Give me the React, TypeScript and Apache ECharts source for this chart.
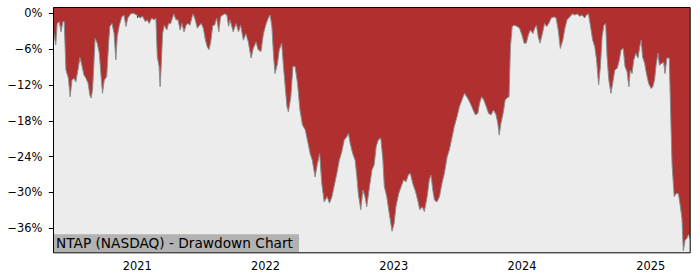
import React, { useEffect, useRef } from 'react';
import * as echarts from 'echarts';

const chartTitle = 'NTAP (NASDAQ) - Drawdown Chart';
const xStart = '2020-05-07';
const xEnd = '2025-04-23';
const yMin = -40.03;
const yMax = 1.05;
const yTickValues = [0, -6, -12, -18, -24, -30, -36];
const xTickYears = ['2021', '2022', '2023', '2024', '2025'];

const ddDates = [
  '2020-05-07','2020-05-14','2020-05-18','2020-05-24','2020-05-29','2020-06-03','2020-06-07','2020-06-12','2020-06-19','2020-06-24',
  '2020-06-29','2020-07-05','2020-07-10','2020-07-16','2020-07-22','2020-07-28','2020-08-02','2020-08-08','2020-08-14','2020-08-19',
  '2020-08-23','2020-08-27','2020-09-03','2020-09-09','2020-09-15','2020-09-20','2020-09-24','2020-09-29','2020-10-06','2020-10-12',
  '2020-10-15','2020-10-21','2020-10-27','2020-11-01','2020-11-05','2020-11-11','2020-11-18','2020-11-24','2020-11-30','2020-12-05',
  '2020-12-13','2020-12-21','2020-12-30','2021-01-09','2021-01-16','2021-01-24','2021-01-29','2021-02-04','2021-02-11','2021-02-18',
  '2021-02-23','2021-02-27','2021-03-04','2021-03-07','2021-03-10','2021-03-14','2021-03-19','2021-03-26','2021-03-31','2021-04-06',
  '2021-04-11','2021-04-15','2021-04-21','2021-04-27','2021-05-03','2021-05-08','2021-05-14','2021-05-20','2021-05-25','2021-05-31',
  '2021-06-06','2021-06-09','2021-06-15','2021-06-21','2021-06-27','2021-07-02','2021-07-08','2021-07-14','2021-07-19','2021-07-24',
  '2021-07-29','2021-08-04','2021-08-09','2021-08-15','2021-08-21','2021-08-26','2021-09-01','2021-09-07','2021-09-13','2021-09-18',
  '2021-09-22','2021-10-01','2021-10-09','2021-10-16','2021-10-22','2021-10-30','2021-11-06','2021-11-13','2021-11-21','2021-11-27',
  '2021-12-05','2021-12-11','2021-12-19','2021-12-26','2022-01-03','2022-01-09','2022-01-14','2022-01-19','2022-01-24','2022-01-28',
  '2022-02-04','2022-02-09','2022-02-16','2022-02-21','2022-02-26','2022-03-03','2022-03-07','2022-03-14','2022-03-20','2022-03-26',
  '2022-04-02','2022-04-09','2022-04-16','2022-04-24','2022-04-30','2022-05-08','2022-05-14','2022-05-22','2022-05-29','2022-06-04',
  '2022-06-10','2022-06-17','2022-06-25','2022-07-02','2022-07-09','2022-07-15','2022-07-23','2022-07-30','2022-08-06','2022-08-13',
  '2022-08-20','2022-08-25','2022-08-30','2022-09-06','2022-09-13','2022-09-18','2022-09-22','2022-09-29','2022-10-05','2022-10-11',
  '2022-10-16','2022-10-24','2022-10-31','2022-11-06','2022-11-12','2022-11-18','2022-11-25','2022-12-01','2022-12-05','2022-12-12',
  '2022-12-19','2022-12-27','2023-01-02','2023-01-07','2023-01-15','2023-01-22','2023-01-29','2023-02-05','2023-02-11','2023-02-17',
  '2023-02-24','2023-03-04','2023-03-10','2023-03-16','2023-03-23','2023-03-29','2023-04-06','2023-04-12','2023-04-17','2023-04-22',
  '2023-04-27','2023-05-04','2023-05-11','2023-05-18','2023-05-25','2023-06-02','2023-06-08','2023-06-16','2023-06-22','2023-06-30',
  '2023-07-07','2023-07-14','2023-07-21','2023-07-30','2023-08-07','2023-08-15','2023-08-21','2023-08-28','2023-09-02','2023-09-08',
  '2023-09-14','2023-09-21','2023-09-28','2023-10-05','2023-10-12','2023-10-19','2023-10-24','2023-10-28','2023-11-02','2023-11-08',
  '2023-11-14','2023-11-19','2023-11-25','2023-11-29','2023-12-04','2023-12-10','2023-12-18','2023-12-25','2024-01-02','2024-01-07',
  '2024-01-13','2024-01-19','2024-01-25','2024-02-01','2024-02-06','2024-02-11','2024-02-16','2024-02-21','2024-02-28','2024-03-05',
  '2024-03-11','2024-03-17','2024-03-24','2024-04-01','2024-04-07','2024-04-13','2024-04-19','2024-04-26','2024-05-02','2024-05-08',
  '2024-05-16','2024-05-24','2024-05-30','2024-06-06','2024-06-13','2024-06-20','2024-06-27','2024-07-02','2024-07-08','2024-07-14',
  '2024-07-20','2024-07-26','2024-07-31','2024-08-06','2024-08-11','2024-08-16','2024-08-21','2024-08-26','2024-08-30','2024-09-04',
  '2024-09-10','2024-09-15','2024-09-21','2024-09-28','2024-10-04','2024-10-09','2024-10-15','2024-10-20','2024-10-26','2024-10-31',
  '2024-11-04','2024-11-09','2024-11-14','2024-11-20','2024-11-26','2024-12-01','2024-12-05','2024-12-09','2024-12-15','2024-12-20',
  '2024-12-26','2025-01-02','2025-01-07','2025-01-12','2025-01-17','2025-01-22','2025-01-26','2025-02-01','2025-02-07','2025-02-11',
  '2025-02-16','2025-02-23','2025-02-28','2025-03-03','2025-03-09','2025-03-15','2025-03-21','2025-03-26','2025-03-31','2025-04-04',
  '2025-04-09','2025-04-14','2025-04-19','2025-04-23'
];

const ddValues = [
  -2.8, -5.3, -1.7, -1.4, -3.1, -1.4, -1.4, -9.5, -10.9, -14.0,
  -11.2, -10.9, -11.5, -9.5, -7.4, -8.9, -10.3, -10.9, -11.7, -13.7,
  -14.2, -12.6, -4.2, -5.0, -6.7, -10.6, -13.4, -11.2, -10.6, -4.5,
  -2.2, -1.7, -3.4, -7.8, -3.9, -2.0, -0.6, -0.3, -2.2, -0.8,
  -0.1, 0, -0.3, -0.8, -0.5, -1.4, -1.1, -1.7, -0.8, -1.1,
  -0.8, -7.3, -8.9, -12.3, -8.9, -3.4, -2.0, -2.8, -1.7, -1.7,
  -0.8, -0.1, -1.1, -1.1, -2.8, -1.7, -3.1, -2.0, -1.7, -2.0,
  -0.6, -0.1, -1.1, -2.5, -2.0, -1.7, -2.5, -4.5, -5.6, -6.1,
  -4.8, -2.0, -2.0, -0.8, -3.1, -0.6, -0.3, -0.1, -0.3, -2.2,
  -1.1, -3.1, -1.7, -3.1, -2.0, -4.5, -3.4, -4.8, -7.5, -5.9,
  -4.8, -6.1, -6.4, -3.4, -1.7, -0.8, -0.3, -2.2, -7.3, -10.1,
  -8.4, -6.1, -5.0, -8.9, -12.3, -15.6, -16.5, -14.0, -8.9, -8.9,
  -11.7, -16.2, -18.7, -19.5, -21.2, -23.5, -24.6, -27.4, -25.1, -23.5,
  -28.5, -31.6, -30.7, -31.8, -30.7, -29.0, -26.8, -24.6, -23.2, -21.2,
  -20.7, -20.1, -21.8, -23.5, -24.6, -27.4, -30.2, -32.9, -29.6, -30.7,
  -32.4, -29.0, -26.2, -25.4, -22.3, -21.2, -20.9, -24.6, -29.0, -30.7,
  -33.5, -36.5, -35.2, -32.4, -30.2, -29.0, -27.9, -28.2, -27.1, -26.8,
  -28.5, -29.9, -31.3, -32.9, -32.4, -33.2, -30.7, -27.9, -27.1, -29.6,
  -31.3, -31.6, -30.7, -28.5, -26.8, -24.0, -22.9, -20.7, -19.0, -17.3,
  -15.6, -14.5, -13.4, -14.2, -15.1, -16.2, -17.0, -16.8, -15.1, -14.0,
  -14.5, -15.6, -16.8, -17.0, -16.2, -17.0, -18.4, -20.4, -18.4, -16.8,
  -14.5, -14.2, -14.0, -5.6, -2.2, -2.0, -2.2, -2.5, -3.9, -5.0,
  -5.0, -3.6, -2.8, -3.4, -2.5, -2.0, -3.9, -5.0, -3.4, -1.7,
  -2.2, -1.7, -0.8, -0.6, -0.8, -2.8, -5.9, -4.5, -2.5, -1.1,
  -0.6, -0.1, -0.3, -0.1, -0.5, -0.3, -0.8, -0.3, -0.1, -2.2,
  -4.5, -5.6, -7.8, -12.0, -8.9, -3.9, -2.0, -1.7, -7.3, -11.2,
  -13.4, -11.7, -9.5, -9.2, -7.8, -6.1, -5.9, -8.9, -9.8, -12.3,
  -9.5, -10.1, -7.8, -6.7, -7.5, -5.6, -4.5, -7.3, -8.4, -10.1,
  -11.7, -12.6, -12.3, -11.2, -8.4, -6.7, -8.7, -8.4, -8.2, -10.1,
  -7.5, -7.5, -19.0, -25.4, -30.7, -30.2, -30.2, -32.1, -34.3, -39.8,
  -38.0, -37.7, -37.0, -37.8
];

const FONT = "'DejaVu Sans', sans-serif";

export default function App() {
  const ref = useRef<HTMLDivElement>(null);

  useEffect(() => {
    if (!ref.current) return;
    const chart = echarts.init(ref.current, null, { renderer: 'svg' });
    const ts = (s: string) => Date.parse(s + 'T00:00:00Z');
    const data = ddDates.map((d, i) => [ts(d), ddValues[i]]);
    const yearTicks = xTickYears.map((y) => ts(y + '-01-01'));

    const gridLeft = 53.3;
    const gridRight = 10;
    const gridTop = 7;
    const gridBottom = 27.7;
    const plotW = 700 - gridLeft - gridRight;
    const plotH = 280 - gridTop - gridBottom;

    chart.setOption({
      animation: false,
      backgroundColor: '#ffffff',
      grid: {
        left: gridLeft,
        right: gridRight,
        top: gridTop,
        bottom: gridBottom,
        show: true,
        backgroundColor: '#ececec',
        borderWidth: 0,
      },
      xAxis: {
        type: 'value',
        min: ts(xStart),
        max: ts(xEnd),
        axisLine: { show: false },
        axisTick: {
          show: true,
          length: 4.5,
          lineStyle: { color: '#000', width: 1 },
          customValues: yearTicks,
        },
        axisLabel: {
          show: true,
          customValues: yearTicks,
          formatter: (v: number) => String(new Date(v).getUTCFullYear()),
          fontSize: 11.4,
          fontFamily: FONT,
          color: '#000',
          margin: 8,
          hideOverlap: false,
        },
        splitLine: { show: false },
      },
      yAxis: {
        type: 'value',
        min: yMin,
        max: yMax,
        axisLine: { show: false },
        axisTick: {
          show: true,
          length: 4.5,
          lineStyle: { color: '#000', width: 1 },
          customValues: yTickValues,
        },
        axisLabel: {
          show: true,
          customValues: yTickValues,
          formatter: (v: number) => (v < 0 ? '\u2212' + Math.abs(v) : String(v)) + '%',
          fontSize: 11.4,
          fontFamily: FONT,
          color: '#000',
          margin: 11,
        },
        splitLine: { show: false },
      },
      series: [
        {
          type: 'line',
          data,
          symbol: 'none',
          showSymbol: false,
          smooth: false,
          lineStyle: { color: '#8c8c8c', width: 1 },
          areaStyle: { color: '#b03030', opacity: 1, origin: 'end' },
          silent: true,
        },
      ],
      graphic: [
        {
          type: 'rect',
          z: 100,
          shape: { x: 53.5, y: 234.3, width: 245.5, height: 17.6 },
          style: { fill: '#b2b2b2' },
        },
        {
          type: 'text',
          z: 101,
          x: 56,
          y: 243.3,
          style: {
            text: chartTitle,
            fontSize: 13.7,
            fontFamily: FONT,
            fill: '#000',
            verticalAlign: 'middle',
            align: 'left',
          },
        },
        {
          type: 'rect',
          z: 102,
          shape: { x: gridLeft + 0.2, y: gridTop + 0.5, width: plotW, height: plotH },
          style: { fill: 'none', stroke: '#000', lineWidth: 1 },
        },
      ],
    });

    return () => chart.dispose();
  }, []);

  return (
    <div
      ref={ref}
      style={{ position: 'absolute', left: 0, top: 0, width: 700, height: 280 }}
    />
  );
}
